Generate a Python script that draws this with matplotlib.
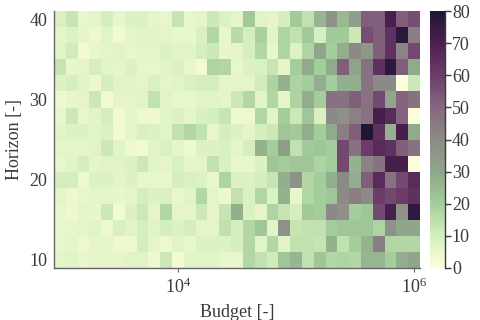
import numpy as np
import matplotlib
matplotlib.use("Agg")
import matplotlib.pyplot as plt
from matplotlib.colors import LinearSegmentedColormap

plt.rcParams['font.family'] = ['Liberation Serif', 'DejaVu Serif']
plt.rcParams['mathtext.fontset'] = 'stix'

# budget exponents (log10), horizon values
log_budget = [3.0 + 0.1 * i for i in range(31)]
horizon = [10, 12, 14, 16, 18, 20, 22, 24, 26, 28, 30, 32, 34, 36, 38, 40]

# rows from horizon 40 (top) down to horizon 10
row_40 = [9, 13, 5, 6, 10, 5, 8, 8, 6, 5, 13, 5, 6, 12, 8, 6, 21, 7, 6, 10, 21, 14, 26, 37, 25, 33, 52, 52, 71, 52, 56]
row_38 = [6, 8, 6, 4, 7, 3, 6, 7, 7, 6, 5, 5, 9, 17, 5, 16, 10, 19, 7, 18, 14, 21, 10, 21, 21, 12, 56, 52, 64, 77, 44]
row_36 = [7, 11, 3, 5, 6, 7, 5, 6, 6, 8, 7, 7, 10, 12, 5, 6, 10, 17, 5, 18, 8, 18, 30, 20, 28, 40, 35, 52, 64, 42, 57]
row_34 = [13, 5, 6, 10, 7, 6, 8, 5, 5, 7, 8, 5, 3, 18, 17, 5, 8, 9, 13, 6, 20, 29, 20, 29, 52, 31, 47, 64, 77, 52, 29]
row_32 = [8, 10, 7, 4, 10, 7, 7, 6, 9, 6, 7, 9, 10, 10, 6, 6, 6, 11, 18, 27, 18, 20, 28, 20, 28, 28, 47, 40, 40, 0, 12]
row_30 = [4, 5, 6, 12, 3, 6, 6, 7, 14, 7, 5, 5, 7, 7, 6, 12, 17, 7, 17, 6, 18, 28, 20, 47, 47, 52, 47, 57, 30, 51, 47]
row_28 = [5, 12, 5, 7, 10, 3, 6, 4, 4, 7, 8, 6, 9, 10, 13, 4, 4, 17, 7, 20, 12, 22, 9, 40, 38, 43, 47, 71, 66, 51, 0]
row_26 = [7, 8, 8, 7, 8, 3, 6, 9, 8, 7, 14, 17, 14, 5, 10, 8, 6, 10, 12, 22, 21, 28, 20, 29, 44, 52, 80, 64, 27, 71, 29]
row_24 = [6, 6, 6, 7, 12, 7, 4, 3, 7, 9, 6, 4, 8, 8, 9, 6, 10, 27, 20, 33, 14, 21, 22, 20, 57, 47, 60, 66, 64, 52, 47]
row_22 = [5, 7, 10, 6, 7, 7, 8, 12, 7, 6, 9, 6, 6, 14, 9, 5, 5, 8, 22, 20, 22, 22, 18, 20, 57, 27, 42, 47, 71, 71, 0]
row_20 = [10, 10, 4, 8, 8, 6, 8, 5, 5, 5, 10, 9, 8, 5, 18, 8, 8, 10, 13, 28, 38, 17, 20, 28, 40, 28, 52, 66, 47, 57, 66]
row_18 = [6, 4, 5, 6, 6, 5, 6, 10, 8, 9, 5, 7, 17, 6, 4, 14, 9, 17, 8, 27, 5, 17, 20, 22, 40, 44, 40, 60, 57, 60, 64]
row_16 = [5, 4, 6, 5, 12, 3, 8, 12, 6, 17, 6, 6, 12, 6, 13, 28, 9, 6, 18, 13, 10, 21, 20, 40, 38, 20, 22, 57, 71, 38, 76]
row_14 = [5, 5, 6, 7, 4, 9, 7, 10, 7, 10, 8, 10, 6, 6, 14, 10, 17, 22, 7, 38, 13, 14, 14, 20, 22, 22, 22, 18, 38, 30, 30]
row_12 = [5, 6, 4, 6, 6, 4, 4, 10, 6, 4, 7, 5, 8, 8, 8, 10, 17, 7, 17, 7, 14, 14, 13, 27, 14, 20, 27, 44, 17, 17, 17]
row_10 = [6, 7, 5, 6, 6, 6, 7, 7, 4, 12, 3, 7, 7, 7, 5, 5, 17, 14, 11, 22, 26, 14, 22, 17, 18, 17, 26, 26, 20, 28, 30]

cbar_ticks = [0, 10, 20, 30, 40, 50, 60, 70, 80]
cmap_colors = ['#fdfed9', '#d4efbd', '#a3cd9b', '#8fa68a', '#8c8b86',
               '#86687f', '#6d3c6b', '#4b2050', '#1f1535']

grid = np.array([row_10, row_12, row_14, row_16, row_18, row_20, row_22, row_24,
                 row_26, row_28, row_30, row_32, row_34, row_36, row_38, row_40])

lb = np.array(log_budget)
x_edges = 10 ** np.concatenate([lb - 0.05, [lb[-1] + 0.05]])
h = np.array(horizon)
y_edges = np.concatenate([h - 1, [h[-1] + 1]])

cmap = LinearSegmentedColormap.from_list('budget', cmap_colors)

fig = plt.figure(figsize=(4.8, 3.2), dpi=100)
ax = fig.add_axes([0.1125, 0.1625, 0.7625, 0.8025])
cax = fig.add_axes([0.896, 0.1625, 0.031, 0.8025])

mesh = ax.pcolormesh(x_edges, y_edges, grid, cmap=cmap, vmin=0, vmax=80)
ax.set_xscale('log')
ax.set_xlim(x_edges[0], x_edges[-1])
ax.set_ylim(y_edges[0], y_edges[-1])
ax.set_xticks([1e4, 1e6])
ax.set_xticks([], minor=True)
ax.set_yticks([10, 20, 30, 40])

for s in ['top', 'right']:
    ax.spines[s].set_visible(False)
for s in ['left', 'bottom']:
    ax.spines[s].set_color('#666666')
    ax.spines[s].set_linewidth(1.0)
ax.tick_params(axis='x', length=3, color='#666666', labelsize=13, labelcolor='#3a3a3a', pad=4)
ax.tick_params(axis='y', length=0, labelsize=13, labelcolor='#3a3a3a', pad=5)
ax.set_xlabel('Budget [-]', fontsize=13, color='#3a3a3a', labelpad=5)
ax.set_ylabel('Horizon [-]', fontsize=13, color='#3a3a3a', labelpad=4)

cb = fig.colorbar(mesh, cax=cax, ticks=cbar_ticks)
cb.outline.set_visible(False)
cax.plot([1, 1], [0, 1], transform=cax.transAxes, color='#3a3a3a', lw=1.0, clip_on=False)
cax.tick_params(length=4, width=1, color='#3a3a3a', labelsize=13, labelcolor='#3a3a3a', pad=1)

fig.savefig('out.png', dpi=100)
